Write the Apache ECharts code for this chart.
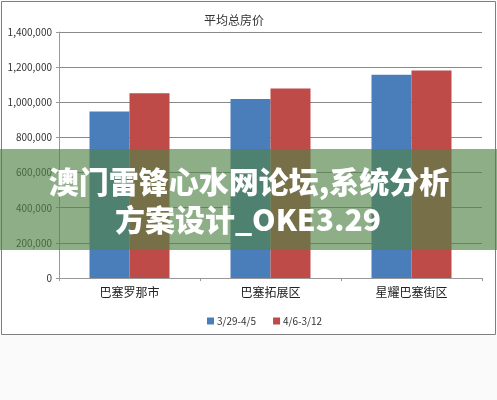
<!DOCTYPE html>
<html>
<head>
<meta charset="utf-8">
<script src="https://cdn.jsdelivr.net/npm/echarts@6/dist/echarts.min.js"></script>
<style>
html,body{margin:0;padding:0;background:#fafafb;}
#c{width:497px;height:400px;}
</style>
</head>
<body>
<div id="c"></div>
<script>
const categories = ['巴塞罗那市', '巴塞拓展区', '星耀巴塞街区'];
const seriesNames = ['3/29-4/5', '4/6-3/12'];
const series1 = [947000, 1019000, 1157000];
const series2 = [1051000, 1079000, 1181000];
const chartTitle = '平均总房价';
const bannerLine1 = '澳门雷锋心水网论坛,系统分析';
const bannerLine2 = '方案设计_OKE3.29';

const chart = echarts.init(document.getElementById('c'), null, {renderer: 'canvas'});
const font = '"Noto Sans CJK SC", "DejaVu Sans", sans-serif';
chart.setOption({
  animation: false,
  backgroundColor: 'transparent',
  textStyle: {fontFamily: font},
  title: {
    text: chartTitle,
    left: 229, top: 9, textAlign: 'center',
    textStyle: {fontSize: 12, fontWeight: 'normal', color: '#333', fontFamily: font}
  },
  legend: {
    left: 202, top: 311,
    itemWidth: 7, itemHeight: 7, itemGap: 17,
    icon: 'rect',
    textStyle: {fontSize: 10, color: '#333', padding: [0,0,0,-2]},
    data: seriesNames
  },
  grid: {left: 59, right: 15, top: 32, bottom: 122},
  xAxis: {
    type: 'category',
    data: categories,
    axisLine: {lineStyle: {color: '#999', width: 1}},
    axisTick: {show: true, length: 3, lineStyle: {color: '#999'}},
    axisLabel: {fontSize: 12, color: '#222', margin: 8}
  },
  yAxis: {
    type: 'value',
    min: 0, max: 1400000, interval: 200000,
    axisLine: {show: true, lineStyle: {color: '#999'}},
    axisTick: {show: true, length: 3, lineStyle: {color: '#999'}},
    splitLine: {lineStyle: {color: '#8a8a8a', width: 1}},
    axisLabel: {
      fontSize: 10, color: '#333', margin: 7,
      formatter: v => v.toLocaleString('en-US')
    }
  },
  series: [
    {name: seriesNames[0], type: 'bar', data: series1, barWidth: 40, barGap: '0%',
     itemStyle: {color: '#4a7ebb'}},
    {name: seriesNames[1], type: 'bar', data: series2, barWidth: 40, barGap: '0%',
     itemStyle: {color: '#be4b48'}}
  ],
  graphic: [
    {type: 'rect', left: 1, top: 1, z: -10, silent: true,
     shape: {width: 494, height: 333},
     style: {fill: '#ffffff', stroke: '#7f7f7f', lineWidth: 1}},
    {type: 'rect', left: 0, top: 149, z: 100, silent: true,
     shape: {width: 497, height: 101},
     style: {fill: 'rgba(80,130,70,0.65)'}},
    {type: 'text', z: 101, silent: true, x: 249, y: 182,
     style: {text: bannerLine1, fill: '#ffffff', font: '900 30px ' + font,
             align: 'center', verticalAlign: 'middle',
             shadowColor: 'rgba(0,0,0,0.3)', shadowBlur: 2}},
    {type: 'text', z: 101, silent: true, x: 248, y: 220,
     style: {text: bannerLine2, fill: '#ffffff', font: '900 30px ' + font,
             align: 'center', verticalAlign: 'middle',
             shadowColor: 'rgba(0,0,0,0.3)', shadowBlur: 2}}
  ]
});
</script>
</body>
</html>
